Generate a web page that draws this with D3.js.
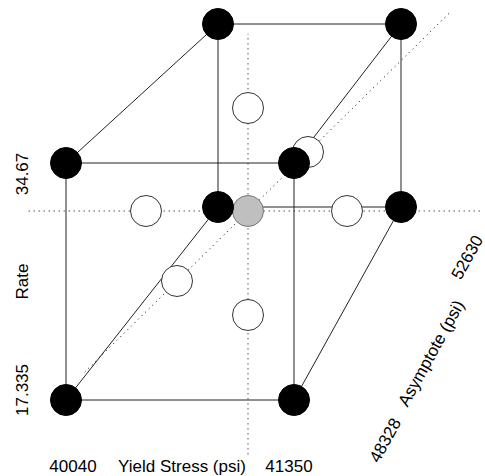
<!DOCTYPE html>
<html lang = "en">
   <head>
      <script src = "https://d3js.org/d3.v7.min.js"></script>
      <style>
      body { margin: 0; background: #fff; }
      svg text {
        font-size: 17px;
        font-family: "Liberation Sans", Arial, sans-serif;
        fill: #000;
      }
      </style>
   </head>
   <body>
    <svg id="chart" width="485" height="476"></svg>
    <script>
        // factor names and their low / high levels
        var factorNames = ["Yield Stress (psi)", "Rate", "Asymptote (psi)"]
        var yieldLevels = ["40040", "41350"]
        var rateLevels  = ["17.335", "34.67"]
        var asymLevels  = ["48328", "52630"]

        // design runs in coded units [yield, rate, asymptote]
        var cornerRuns = [
            [-1,-1,-1], [ 1,-1,-1], [-1, 1,-1], [ 1, 1,-1],
            [-1,-1, 1], [ 1,-1, 1], [-1, 1, 1], [ 1, 1, 1]
        ]
        var axialRuns = [
            [-1, 0, 0], [ 1, 0, 0], [ 0,-1, 0], [ 0, 1, 0], [ 0, 0,-1], [ 0, 0, 1]
        ]
        var centerRuns = [[0, 0, 0]]

        var r = 15.5
        var svg = d3.select("svg")

        // box projection: front face at z=-1, back face at z=+1
        var faceLeft   = d3.scaleLinear().domain([-1, 1]).range([66, 218])
        var faceRight  = d3.scaleLinear().domain([-1, 1]).range([294, 401])
        var faceTop    = d3.scaleLinear().domain([-1, 1]).range([163, 24])
        var faceBottom = d3.scaleLinear().domain([-1, 1]).range([400, 207])
        function cube(p) {
            var sx = d3.scaleLinear().domain([-1, 1]).range([faceLeft(p[2]), faceRight(p[2])])
            var sy = d3.scaleLinear().domain([-1, 1]).range([faceBottom(p[2]), faceTop(p[2])])
            return [sx(p[0]), sy(p[1])]
        }

        // projection used for the star / centre points and the dotted axes
        var starX  = d3.scaleLinear().domain([-1, 0, 1]).range([146, 248, 347])
        var starY  = d3.scaleLinear().domain([-1, 0, 1]).range([315, 211, 108])
        var shiftX = d3.scaleLinear().domain([-1, 0, 1]).range([-71, 0, 60])
        var shiftY = d3.scaleLinear().domain([-1, 0, 1]).range([70, 0, -59])
        function star(p) {
            return [starX(p[0]) + shiftX(p[2]), starY(p[1]) + shiftY(p[2])]
        }

        // cube edges: corner pairs differing in one coordinate
        var edges = []
        cornerRuns.forEach((a, i) => cornerRuns.forEach((b, j) => {
            var diff = a.filter((v, k) => v != b[k]).length
            if (j > i && diff == 1) edges.push([a, b])
        }))
        svg.append("g").selectAll("line").data(edges).enter().append("line")
            .attr("x1", d => cube(d[0])[0]).attr("y1", d => cube(d[0])[1])
            .attr("x2", d => cube(d[1])[0]).attr("y2", d => cube(d[1])[1])
            .attr("style", "stroke:#222;stroke-width:1")

        // dotted axes through the centre
        var guides = [
            [[-2.15, 0, 0], [2.36, 0, 0]],
            [[0, -2.34, 0], [0, 1.72, 0]],
            [[0, 0, -2.3], [0, 0, 3.35]]
        ]
        svg.append("g").selectAll("line").data(guides).enter().append("line")
            .attr("x1", d => star(d[0])[0]).attr("y1", d => star(d[0])[1])
            .attr("x2", d => star(d[1])[0]).attr("y2", d => star(d[1])[1])
            .attr("style", "stroke:#000;stroke-width:1;stroke-dasharray:1,4")

        svg.append("g").selectAll("circle").data(axialRuns).enter().append("circle")
            .attr("cx", d => star(d)[0]).attr("cy", d => star(d)[1]).attr("r", r)
            .attr("style", "fill:#fff;stroke:#333;stroke-width:1")
        svg.append("g").selectAll("circle").data(centerRuns).enter().append("circle")
            .attr("cx", d => star(d)[0]).attr("cy", d => star(d)[1]).attr("r", r)
            .attr("style", "fill:#bfbfbf;stroke:#777;stroke-width:1")
        svg.append("g").selectAll("circle").data(cornerRuns).enter().append("circle")
            .attr("cx", d => cube(d)[0]).attr("cy", d => cube(d)[1]).attr("r", r)
            .attr("style", "fill:#000;stroke:#000;stroke-width:1")

        function label(x, y, angle, txt) {
            svg.append("text")
                .attr("transform", "translate(" + x + "," + y + ") rotate(" + angle + ")")
                .attr("text-anchor", "middle").attr("dy", "0.35em")
                .text(txt)
        }

        // yield stress along the bottom
        var bottomY = 466
        label(cube([-1, -1, -1])[0] + 7, bottomY, 0, yieldLevels[0])
        label(cube([ 1, -1, -1])[0] - 5, bottomY, 0, yieldLevels[1])
        label((cube([-1, -1, -1])[0] + cube([1, -1, -1])[0]) / 2 + 2, bottomY, 0, factorNames[0])

        // rate up the left side
        var leftX = 22
        label(leftX, cube([-1, -1, -1])[1] - 10, -90, rateLevels[0])
        label(leftX, cube([-1, 1, -1])[1] + 11, -90, rateLevels[1])
        label(leftX, (cube([-1, -1, -1])[1] + cube([-1, 1, -1])[1]) / 2, -90, factorNames[1])

        // asymptote along the lower right depth edge
        var e0 = cube([1, -1, -1]), e1 = cube([1, -1, 1])
        var len = Math.hypot(e1[0] - e0[0], e1[1] - e0[1])
        var u = [(e1[0] - e0[0]) / len, (e1[1] - e0[1]) / len]
        var n = [-u[1], u[0]]
        var ang = Math.atan2(u[1], u[0]) * 180 / Math.PI
        function along(s, off) {
            return [e0[0] + u[0] * s + n[0] * off, e0[1] + u[1] * s + n[1] * off]
        }
        var a0 = along(9, 99), a1 = along(len / 2 - 3, 97), a2 = along(len - 12, 82)
        label(a0[0], a0[1], ang, asymLevels[0])
        label(a1[0], a1[1], ang, factorNames[2])
        label(a2[0], a2[1], ang, asymLevels[1])
    </script>
   </body>
</html>
